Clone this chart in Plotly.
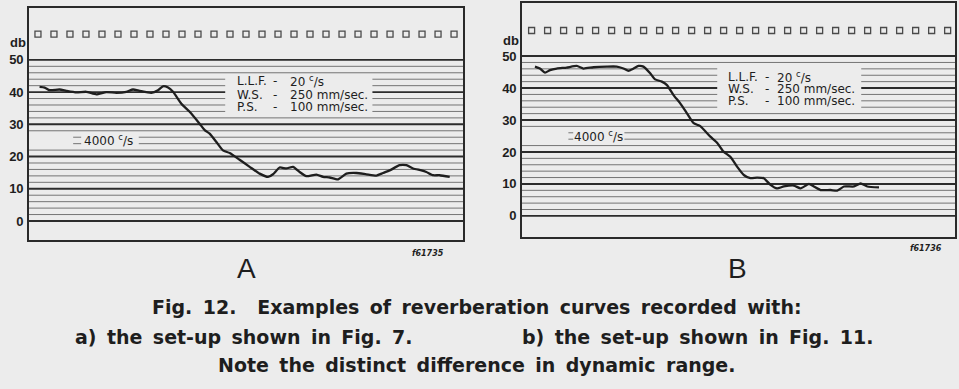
import plotly.graph_objects as go

# ---------------- data ----------------
# x in units of the timing-square spacing, y in db
a_x = [0.10, 0.42, 0.73, 1.35, 1.77, 2.40, 3.02, 3.65, 4.27, 4.90, 5.52, 5.94, 6.35, 7.08, 7.50, 7.81,
       8.13, 8.44, 8.96, 9.48, 10.10, 10.42, 10.73, 11.15, 11.56, 11.98, 12.60, 13.23, 13.85, 14.38,
       14.69, 15.10, 15.52, 15.94, 16.35, 16.77, 17.40, 17.81, 18.23, 18.75, 19.27, 19.90, 20.52,
       21.15, 21.56, 21.98, 22.60, 23.02, 23.44, 23.96, 24.27, 24.69, 25.10, 25.73]
a_y = [41.6, 41.4, 40.6, 40.8, 40.4, 39.9, 40.1, 39.3, 40.0, 39.8, 40.1, 40.8, 40.4, 39.8, 40.6, 41.8,
       41.4, 40.1, 36.4, 33.9, 30.2, 28.2, 27.1, 24.5, 21.9, 21.1, 19.0, 16.8, 14.7, 13.7,
       14.5, 16.6, 16.3, 16.8, 15.2, 13.9, 14.4, 13.7, 13.5, 12.9, 14.7, 14.9, 14.5,
       14.1, 14.9, 15.7, 17.3, 17.3, 16.3, 15.7, 15.2, 14.2, 14.2, 13.7]

b_x = [0.21, 0.52, 0.84, 1.15, 1.57, 2.19, 2.82, 3.24, 3.86, 4.70, 5.32, 5.74, 6.05, 6.37, 6.68, 6.99,
       7.41, 7.72, 8.14, 8.46, 8.87, 9.29, 9.71, 10.13, 10.54, 11.17, 11.59, 12.00, 12.42, 12.84,
       13.26, 13.67, 14.09, 14.51, 14.93, 15.34, 15.76, 16.39, 16.81, 17.33, 17.64, 18.06, 18.68,
       19.10, 19.52, 20.15, 20.56, 20.98, 21.71]
b_y = [46.7, 46.1, 44.8, 45.6, 46.1, 46.4, 46.9, 46.1, 46.5, 46.7, 46.7, 46.1, 45.4, 46.1, 46.9, 46.7,
       44.6, 42.7, 42.0, 40.9, 37.8, 35.2, 32.1, 29.0, 28.1, 24.8, 22.9, 20.1, 18.5, 15.4,
       12.8, 11.8, 12.0, 11.8, 9.7, 8.6, 9.2, 9.5, 8.6, 10.0, 9.2, 8.1, 8.1,
       7.9, 9.2, 9.2, 10.2, 9.2, 8.9]

timing_x = list(range(27))
timing_level = 58

y_ticks = [0, 10, 20, 30, 40, 50]
grid_levels = list(range(0, 51, 2))

settings_labels = ["L.L.F.", "W.S.", "P.S."]
settings_values = ["20 <sup>c</sup>/s", "250 mm/sec.", "100 mm/sec."]
freq_label = "4000 <sup>c</sup>/s"

caption1 = "Fig. 12.  Examples of reverberation curves recorded with:"
caption2a = "a) the set-up shown in Fig. 7."
caption2b = "b) the set-up shown in Fig. 11."
caption3 = "Note the distinct difference in dynamic range."

# ---------------- layout helpers ----------------
W, H = 959, 389
BG = "#ececec"
INK = "#1e1e1e"


def px_x(p):
    return p / W


def px_y(p):
    return 1 - p / H


def wide(s):
    # wider word spacing as in the printed caption
    return s.replace(" ", "\u00a0\u2009")


panels = {
    "A": dict(xd=[px_x(29), px_x(463)], yd=[px_y(240), px_y(8)], yr=[-5.9, 66.1], xr=[-0.56, 26.56],
              box=(11.7, 20.9, 33, 45), fl=(2.2, 2.7, 6.3), rows=[43.3, 39.1, 35.3],
              cols=(12.4, 14.8, 15.7), freq=(4.4, 25.0), db=55.3),
    "B": dict(xd=[px_x(522), px_x(955)], yd=[px_y(237), px_y(3)], yr=[-6.6, 66.6], xr=[-0.6, 26.46],
              box=(11.6, 20.6, 33, 47), fl=(2.3, 2.6, 5.8), rows=[43.6, 39.6, 35.8],
              cols=(12.2, 14.7, 15.25), freq=(4.15, 24.9), db=54.8),
}

fig = go.Figure()
shapes = []
annotations = []

for idx, (name, p) in enumerate(panels.items()):
    xa = "x" if idx == 0 else "x2"
    ya = "y" if idx == 0 else "y2"
    xs, ys = (a_x, a_y) if idx == 0 else (b_x, b_y)

    # grid lines (interrupted where the printed labels sit)
    for g in grid_levels:
        major = g % 10 == 0
        lw = 1.9 if major else 0.9
        col = "#2c2c2c" if major else "#666666"
        bx0, bx1, by0, by1 = p["box"]
        if by0 <= g <= by1:
            segs = [(p["xr"][0], bx0), (bx1, p["xr"][1])]
        elif g in (24, 26):
            segs = [(p["fl"][0], p["fl"][1]), (p["fl"][2], p["xr"][1])]
        else:
            segs = [(p["xr"][0], p["xr"][1])]
        for s0, s1 in segs:
            shapes.append(dict(type="line", xref=xa, yref=ya, x0=s0, x1=s1, y0=g, y1=g,
                               line=dict(color=col, width=lw), layer="below"))

    # timing squares
    fig.add_trace(go.Scatter(x=timing_x, y=[timing_level] * len(timing_x), mode="markers",
                             marker=dict(symbol="square-open", size=6, color="#4a4a4a",
                                         line=dict(width=1.3, color="#4a4a4a")),
                             xaxis=xa, yaxis=ya, showlegend=False, hoverinfo="skip"))
    # curve
    fig.add_trace(go.Scatter(x=xs, y=ys, mode="lines",
                             line=dict(color=INK, width=2.3, shape="spline", smoothing=0.5),
                             xaxis=xa, yaxis=ya, showlegend=False))

    # settings text
    c0, c1, c2 = p["cols"]
    tf = dict(family="DejaVu Sans", size=12, color=INK)
    for r, lab, val in zip(p["rows"], settings_labels, settings_values):
        annotations.append(dict(x=c0, y=r, xref=xa, yref=ya, text=lab, showarrow=False,
                                xanchor="left", yanchor="middle", borderpad=0, font=tf))
        annotations.append(dict(x=c1, y=r, xref=xa, yref=ya, text="-", showarrow=False,
                                xanchor="center", yanchor="middle", borderpad=0, font=tf))
        annotations.append(dict(x=c2, y=r, xref=xa, yref=ya, text=val, showarrow=False,
                                xanchor="left", yanchor="middle", borderpad=0, font=tf))
    annotations.append(dict(x=p["freq"][0], y=p["freq"][1], xref=xa, yref=ya, text=freq_label,
                            showarrow=False, yanchor="middle", font=tf))
    # db unit label
    annotations.append(dict(x=0, y=p["db"], xref=xa + " domain", yref=ya, text="<b>db</b>",
                            showarrow=False, xanchor="right", yanchor="middle", xshift=-1,
                            font=dict(family="Liberation Sans", size=13, color=INK)))

    axis_common = dict(showgrid=False, zeroline=False, showline=True, mirror=True,
                       linecolor="#2a2a2a", linewidth=1.6, ticks="")
    fig.update_layout(**{
        ("xaxis" if idx == 0 else "xaxis2"): dict(domain=p["xd"], range=p["xr"], showticklabels=False,
                                                  anchor=ya, **axis_common),
        ("yaxis" if idx == 0 else "yaxis2"): dict(domain=p["yd"], range=p["yr"], tickvals=y_ticks,
                                                  ticktext=[f"<b>{t}</b>" for t in y_ticks],
                                                  tickfont=dict(family="Liberation Sans", size=13, color=INK),
                                                  ticklabelstandoff=1, anchor=xa, **axis_common),
    })

# panel letters and reference numbers
annotations += [
    dict(x=px_x(246), y=px_y(268), xref="paper", yref="paper", text="A", showarrow=False,
         xanchor="center", yanchor="middle", font=dict(family="Liberation Sans", size=28, color=INK)),
    dict(x=px_x(737), y=px_y(268), xref="paper", yref="paper", text="B", showarrow=False,
         xanchor="center", yanchor="middle", font=dict(family="Liberation Sans", size=28, color=INK)),
    dict(x=px_x(428), y=px_y(253), xref="paper", yref="paper", text="<b><i>f61735</i></b>", showarrow=False,
         xanchor="center", yanchor="middle", font=dict(family="DejaVu Sans", size=8, color=INK)),
    dict(x=px_x(926), y=px_y(248), xref="paper", yref="paper", text="<b><i>f61736</i></b>", showarrow=False,
         xanchor="center", yanchor="middle", font=dict(family="DejaVu Sans", size=8, color=INK)),
]
cf = dict(family="DejaVu Sans", size=19, color=INK)
annotations += [
    dict(x=px_x(477), y=px_y(307), xref="paper", yref="paper", text=f"<b>{wide(caption1)}</b>",
         showarrow=False, xanchor="center", yanchor="middle", font=cf),
    dict(x=px_x(415), y=px_y(337), xref="paper", yref="paper", text=f"<b>{wide(caption2a)}</b>",
         showarrow=False, xanchor="right", yanchor="middle", font=cf),
    dict(x=px_x(520), y=px_y(337), xref="paper", yref="paper", text=f"<b>{wide(caption2b)}</b>",
         showarrow=False, xanchor="left", yanchor="middle", font=cf),
    dict(x=px_x(476), y=px_y(365), xref="paper", yref="paper", text=f"<b>{wide(caption3)}</b>",
         showarrow=False, xanchor="center", yanchor="middle", font=cf),
]

fig.update_layout(width=W, height=H, margin=dict(l=0, r=0, t=0, b=0),
                  paper_bgcolor=BG, plot_bgcolor=BG, shapes=shapes, annotations=annotations,
                  showlegend=False)

fig.write_html("out.html", config={"displayModeBar": False},
               post_script="document.body.style.margin='0';document.body.style.overflow='hidden';")
